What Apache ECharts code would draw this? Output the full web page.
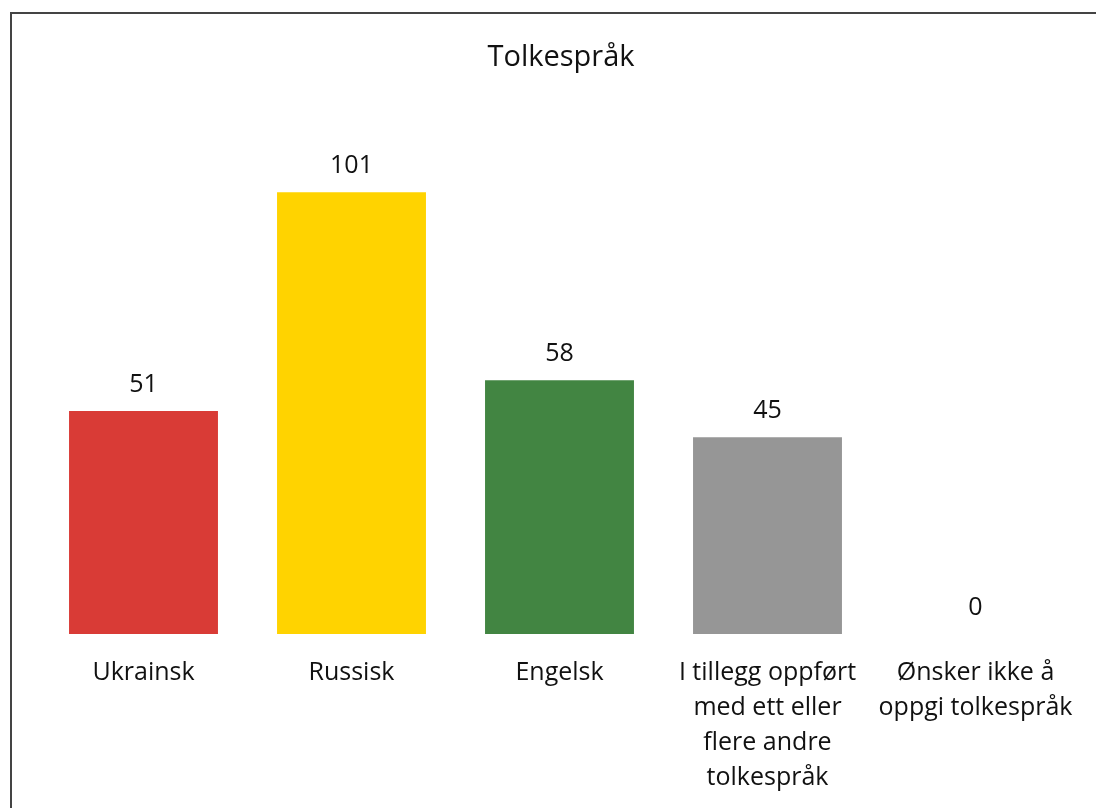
<!DOCTYPE html>
<html>
<head>
<meta charset="utf-8">
<script src="https://cdn.jsdelivr.net/npm/echarts@6/dist/echarts.min.js"></script>
<style>
  html, body { margin: 0; padding: 0; background: #fff; }
  #chart { width: 1096px; height: 808px; }
</style>
</head>
<body>
<div id="chart"></div>
<script>
// Interpreter languages requested
const categories = [
  'Ukrainsk',
  'Russisk',
  'Engelsk',
  'I tillegg oppført\nmed ett eller\nflere andre\ntolkespråk',
  'Ønsker ikke å\noppgi tolkespråk'
];
const counts = [51, 101, 58, 45, 0];
const barColors = ['#D93B36', '#FFD300', '#428542', '#969696', '#969696'];

const FONT = '"Open Sans", "Noto Sans", sans-serif';

const chart = echarts.init(document.getElementById('chart'), null, { renderer: 'canvas' });

chart.setOption({
  animation: false,
  backgroundColor: '#ffffff',
  title: {
    text: 'Tolkespråk',
    left: 556,
    textAlign: 'center',
    top: 38,
    textStyle: { fontFamily: FONT, fontSize: 29, fontWeight: 'normal', color: '#111' }
  },
  graphic: [{
    type: 'rect',
    shape: { x: 11, y: 13, width: 1200, height: 900 },
    style: { fill: 'none', stroke: '#444', lineWidth: 2 },
    silent: true
  }],
  grid: { left: 39.5, right: 16.5, top: 109, bottom: 174, containLabel: false },
  xAxis: {
    type: 'category',
    data: categories,
    axisLine: { show: false },
    axisTick: { show: false },
    axisLabel: {
      interval: 0,
      margin: 21,
      fontFamily: FONT,
      fontSize: 25,
      lineHeight: 35,
      color: '#111'
    }
  },
  yAxis: {
    type: 'value',
    min: 0,
    max: 120,
    show: false,
    splitLine: { show: false }
  },
  series: [{
    type: 'bar',
    data: counts.map((v, i) => ({ value: v, itemStyle: { color: barColors[i] } })),
    barCategoryGap: '28.4%',
    label: {
      show: true,
      position: 'top',
      distance: 14,
      fontFamily: FONT,
      fontSize: 25,
      color: '#111'
    }
  }]
});
</script>
</body>
</html>
